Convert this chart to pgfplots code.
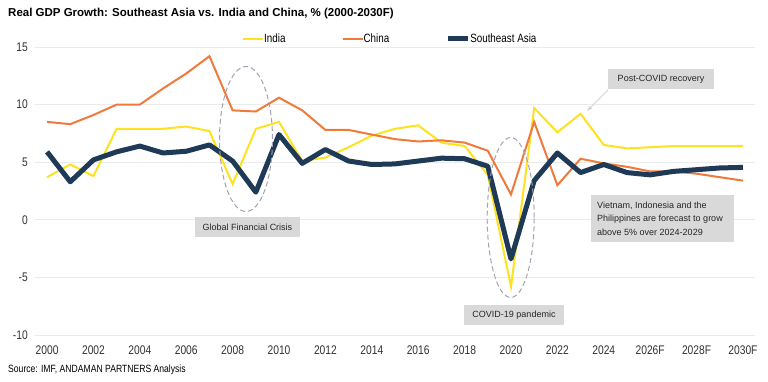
\documentclass[border=0pt]{standalone}
\usepackage{pgfplots}
\pgfplotsset{compat=1.18}
\usepackage{fontspec}
\setmainfont{Liberation Sans}
\newfontfamily\narrow[FakeStretch=0.82]{Liberation Sans}
\definecolor{india}{HTML}{FFE21F}
\definecolor{china}{HTML}{F07A3C}
\definecolor{sea}{HTML}{1E3A56}
\definecolor{gridc}{HTML}{EBEBEB}
\definecolor{boxc}{HTML}{D9D9D9}
\definecolor{ellc}{HTML}{A3A3B5}
\begin{document}
\begin{tikzpicture}
\path[use as bounding box, fill=white] (0,0) rectangle (768pt,381pt);
\begin{axis}[
  at={(35pt,46pt)}, anchor=south west,
  scale only axis, width=720pt, height=288pt,
  xmin=1999.48, xmax=2030.52, ymin=-10, ymax=15,
  axis line style={draw=none},
  major tick length=0pt,
  ymajorgrids, grid style={gridc, line width=0.8pt},
  ytick={-10,-5,0,5,10,15},
  yticklabels={-10,-5,0,5,10,15},
  xtick={2000,2002,...,2030},
  xticklabels={2000,2002,2004,2006,2008,2010,2012,2014,2016,2018,2020,2022,2024,2026F,2028F,2030F},
  ticklabel style={font=\narrow\fontsize{12.5}{14}\selectfont, text=black!80},
  yticklabel style={anchor=east, inner sep=0pt, xshift=-7pt},
  xticklabel style={anchor=center, inner sep=0pt, yshift=-15pt},
  clip=false,
  legend columns=3,
  legend style={draw=none, fill=none, at={(0.2875,1.028)}, anchor=west,
    inner sep=0pt, font=\narrow\fontsize{12}{14}\selectfont,
    nodes={inner xsep=0pt, inner ysep=1pt}},
  /tikz/every even column/.append style={column sep=56pt},
  legend image code/.code={\draw[#1] (0pt,0pt) -- (20pt,0pt);},
]
\addplot[india, line width=2pt] coordinates {
(2000,3.7)(2001,4.8)(2002,3.8)(2003,7.9)(2004,7.9)(2005,7.9)(2006,8.1)(2007,7.7)(2008,3.1)(2009,7.9)
(2010,8.5)(2011,5.1)(2012,5.4)(2013,6.3)(2014,7.3)(2015,7.9)(2016,8.2)(2017,6.7)(2018,6.4)(2019,3.9)
(2020,-5.8)(2021,9.7)(2022,7.6)(2023,9.2)(2024,6.5)(2025,6.2)(2026,6.3)(2027,6.4)(2028,6.4)(2029,6.4)(2030,6.4)};
\addlegendentry{India}
\addplot[china, line width=2pt] coordinates {
(2000,8.5)(2001,8.3)(2002,9.1)(2003,10.0)(2004,10.0)(2005,11.4)(2006,12.7)(2007,14.2)(2008,9.5)(2009,9.4)
(2010,10.6)(2011,9.5)(2012,7.8)(2013,7.8)(2014,7.4)(2015,7.0)(2016,6.8)(2017,6.9)(2018,6.7)(2019,6.0)
(2020,2.2)(2021,8.5)(2022,3.0)(2023,5.3)(2024,4.9)(2025,4.6)(2026,4.2)(2027,4.2)(2028,4.0)(2029,3.7)(2030,3.4)};
\addlegendentry{China}
\addplot[sea, line width=5pt, line join=round] coordinates {
(2000,5.9)(2001,3.3)(2002,5.2)(2003,5.9)(2004,6.4)(2005,5.8)(2006,5.95)(2007,6.5)(2008,5.1)(2009,2.4)
(2010,7.4)(2011,4.9)(2012,6.1)(2013,5.1)(2014,4.8)(2015,4.85)(2016,5.1)(2017,5.35)(2018,5.3)(2019,4.65)
(2020,-3.4)(2021,3.4)(2022,5.8)(2023,4.1)(2024,4.8)(2025,4.1)(2026,3.9)(2027,4.2)(2028,4.35)(2029,4.5)(2030,4.55)};
\addlegendentry{Southeast Asia}
\end{axis}
% annotations
\draw[ellc, line width=1pt, dash pattern=on 5pt off 3pt] (246pt,242pt) ellipse [x radius=26.5pt, y radius=72.5pt];
\draw[ellc, line width=1pt, dash pattern=on 5pt off 3pt] (510.7pt,163.5pt) ellipse [x radius=23.5pt, y radius=80pt];
\fill[boxc] (195pt,144pt) rectangle (300pt,164pt);
\node[font=\fontsize{9}{11}\selectfont, text=black!85] at (247.5pt,154pt) {Global Financial Crisis};
\fill[boxc] (464pt,56pt) rectangle (564pt,76pt);
\node[font=\fontsize{9}{11}\selectfont, text=black!85] at (514pt,66pt) {COVID-19 pandemic};
\fill[boxc] (608pt,292pt) rectangle (714pt,312pt);
\node[font=\fontsize{9}{11}\selectfont, text=black!85] at (661pt,302pt) {Post-COVID recovery};
\draw[black!18, line width=0.8pt, -{latex}] (608pt,291pt) -- (587pt,270pt);
\fill[boxc] (591pt,139pt) rectangle (734pt,186pt);
\node[font=\fontsize{9}{13.3}\selectfont, text=black!85, align=left, anchor=west, inner sep=0pt] at (597pt,162.5pt)
  {Vietnam, Indonesia and the\\Philippines are forecast to grow\\above 5\% over 2024-2029};
\node[anchor=west, inner sep=0pt, font=\bfseries\fontsize{11.5}{13}\selectfont] at (8pt,367pt)
  {Real GDP Growth: Southeast Asia vs. India and China, \% (2000-2030F)};
\node[anchor=west, inner sep=0pt, font=\narrow\fontsize{10.5}{12}\selectfont] at (8pt,11pt)
  {Source: IMF, ANDAMAN PARTNERS Analysis};
\end{tikzpicture}
\end{document}
